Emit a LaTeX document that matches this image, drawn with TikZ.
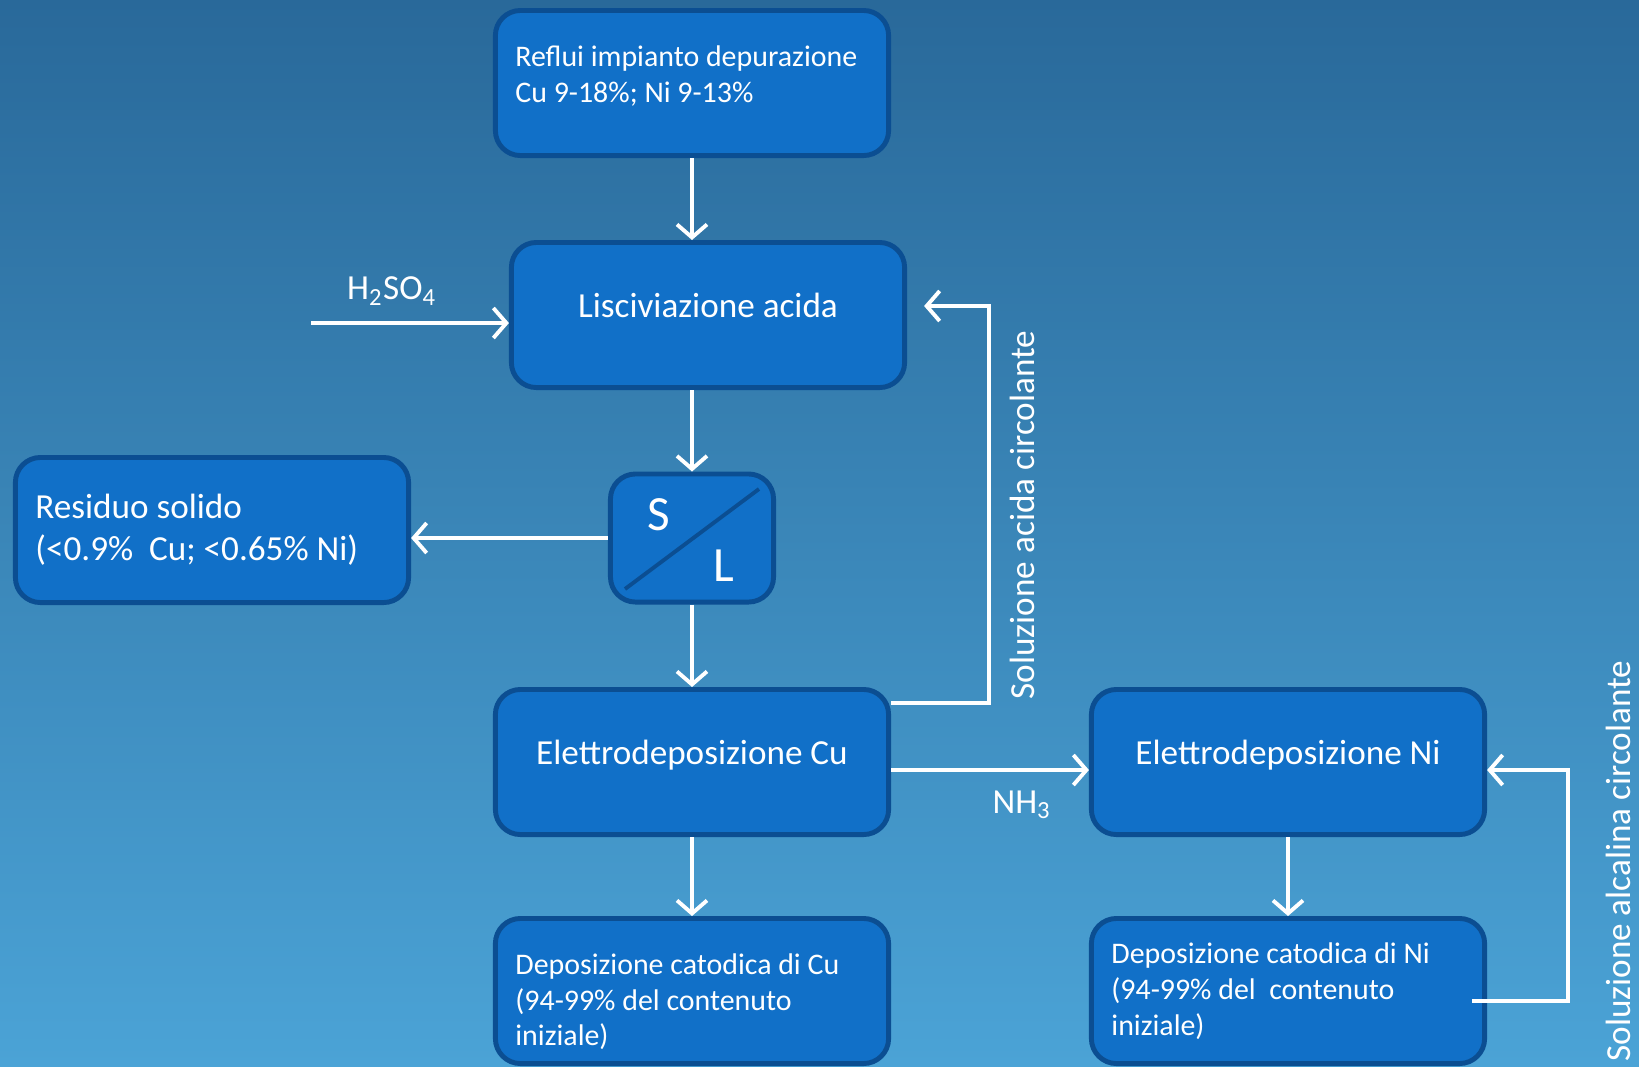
\documentclass[tikz,border=0pt]{standalone}
\usepackage{fontspec}
\setmainfont{Carlito}
\usetikzlibrary{arrows.meta}
\usetikzlibrary{calc}
\definecolor{bgtop}{HTML}{29699A}
\definecolor{bgbot}{HTML}{4BA3D6}
\definecolor{boxfill}{HTML}{1170C8}
\definecolor{boxline}{HTML}{0B4E92}

\begin{document}
\begin{tikzpicture}[x=0.01cm, y=-0.01cm,
    box/.style={rectangle, rounded corners=0.25cm, draw=boxline, line width=1.4pt, fill=boxfill, text=white, minimum width=3.93cm, minimum height=1.45cm},
    lbox/.style={box, align=flush left, text width=3.53cm, inner xsep=0.2cm, font=\fontsize{8.5}{10.2}\selectfont},
    cbox/.style={box, text height=7pt, text depth=5.4pt, font=\fontsize{10}{12}\selectfont},
    flow/.style={draw=white, line width=1.1pt, -{Straight Barb[length=0.13cm, width=0.3cm]}},
    lab/.style={text=white, font=\fontsize{10}{12}\selectfont}]
      \useasboundingbox (0, 0) rectangle (1639, 1066);
      \shade[top color=bgtop, bottom color=bgbot] (0, 0) rectangle (1639, 1066);

      \node[lbox, text height=2pt] (reflui) at (692, 83) {Reflui impianto depurazione\\Cu 9-18\%; Ni 9-13\%};
      \node[cbox] (lisc) at (708, 315) {Lisciviazione acida};
      \node[lbox, font=\fontsize{10}{12}\selectfont] (residuo) at (212, 530) {Residuo solido\\(<0.9\%\ \ Cu; <0.65\% Ni)};
      \node[box, minimum width=1.63cm, minimum height=1.28cm] (sl) at (692, 538) {};
      \node[cbox] (elcu) at (692, 762) {Elettrodeposizione Cu};
      \node[cbox] (elni) at (1288, 762) {Elettrodeposizione Ni};
      \node[lbox, text height=12pt] (depcu) at (692, 991) {Deposizione catodica di Cu\\(94-99\% del contenuto\\iniziale)};
      \node[lbox] (depni) at (1288, 991) {Deposizione catodica di Ni\\(94-99\% del\ \ contenuto\\iniziale)};

      \draw[boxline, line width=1.1pt] ($(sl.center)+(-67, 51)$) -- ($(sl.center)+(67, -49)$);
      \node[lab, font=\fontsize{14}{16}\selectfont] (s) at ($(sl.center)+(-33, -23)$) {S};
      \node[lab, font=\fontsize{14}{16}\selectfont] (l) at ($(sl.center)+(32, 28)$) {L};

      \draw[flow] (reflui.south) -- (reflui.south |- lisc.north);
      \draw[flow] (sl.north |- lisc.south) -- (sl.north);
      \draw[flow] (sl.south) -- (elcu.north);
      \draw[flow] (sl.west) -- (sl.west -| residuo.east);
      \draw[flow] (elcu.south) -- (depcu.north);
      \draw[flow] (elni.south) -- (depni.north);
      \draw[flow] ($(elcu.east)+(0, 8)$) -- ($(elni.west)+(0, 8)$);

      \coordinate (acidin) at (311, 323);
      \draw[flow] (acidin) -- (acidin -| lisc.west);
      \node[lab] (h2so4) at (392, 291) {H\textsubscript{2}SO\textsubscript{4}};
      \node[lab] (nh3) at (1022, 805) {NH\textsubscript{3}};

      \coordinate (acidret) at (989, 306);
      \draw[flow] ($(elcu.east)+(0, -59)$) -| (acidret) -- ($(lisc.east)+(17, -9)$);
      \node[lab, rotate=90] (acidlab) at (1022, 515) {Soluzione acida circolante};

      \coordinate (alkret) at (1568, 770);
      \draw[flow] ($(depni.east)+(-15, 10)$) -| (alkret) -- ($(elni.east)+(0, 8)$);
      \node[lab, rotate=90] (alklab) at (1618, 861) {Soluzione alcalina circolante};
    \end{tikzpicture}
\end{document}
